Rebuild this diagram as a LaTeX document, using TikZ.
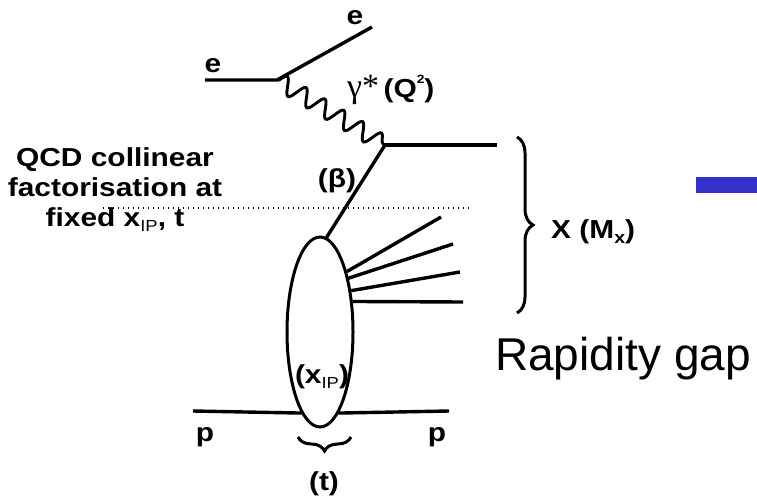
\documentclass[tikz,border=0pt]{standalone}
\usepackage{fontspec}
\setmainfont{Liberation Sans}
\newfontfamily\widesans[FakeStretch=1.15]{Liberation Sans}
\newfontfamily\serifgr{Liberation Serif}
\usetikzlibrary{shapes.geometric,decorations.pathmorphing,decorations.pathreplacing}
\definecolor{barblue}{HTML}{3333CC}
\begin{document}
\begin{tikzpicture}[x=1pt,y=-1pt,
  line/.style={line width=3.4pt},
  photon/.style={line width=2.9pt, decorate, decoration={snake, segment length=22pt, amplitude=8.5pt}},
  dotline/.style={line width=1.3pt, dash pattern=on 1.3pt off 3.7pt},
  bracestyle/.style={line width=3pt, decorate, decoration={brace, amplitude=#1}},
  lbl/.style={font=\widesans\fontsize{26}{30}\selectfont\bfseries, inner sep=0pt, anchor=base}
]
\useasboundingbox (0,0) rectangle (757,500);

% coordinates
\coordinate (ein) at (205,80);
\coordinate (ev) at (277,80);
\coordinate (eout) at (372,27);
\coordinate (qv) at (385,145);
\coordinate (qout) at (497,145);
\coordinate (pin) at (193,411);
\coordinate (pout) at (449,411);
\coordinate (f1) at (441,217);
\coordinate (f2) at (453,244);
\coordinate (f3) at (460,272);
\coordinate (f4) at (463,302);
\coordinate (dotL) at (103,208);
\coordinate (dotR) at (470,208);
\coordinate (bt) at (517,137);
\coordinate (bb) at (517,313);
\coordinate (tb1) at (351,437);
\coordinate (tb2) at (298,437);

% pomeron blob
\node[draw, ellipse, line width=3pt, minimum width=66pt, minimum height=190pt, inner sep=0pt] (pom) at (320,332) {};

% electron
\draw[line] (ein) -- (ev) -- (eout);
% photon
\draw[photon] (ev) -- (qv);
% quark lines
\draw[line] (qv) -- (qout);
\draw[line] (qv) -- (pom.86);
% hadronic fan
\draw[line] (pom.66) -- (f1);
\draw[line] (pom.62) -- (f2);
\draw[line] (pom.53) -- (f3);
\draw[line] (pom.43) -- (f4);
% proton
\draw[line] (pin) -- (pom.257);
\draw[line] (pom.283) -- (pout);
% dotted factorisation line
\draw[dotline] (dotL) -- (dotR);
% braces
\draw[bracestyle=16pt] (bt) -- (bb);
\draw[bracestyle=14pt] (tb1) -- (tb2);
% blue bar
\node[fill=barblue, minimum width=61pt, minimum height=16pt, inner sep=0pt, anchor=north west] (bar) at (696,177) {};

% labels
\node[lbl] (e1) at (213,73) {e};
\node[lbl] (e2) at (355,25) {e};
\node[lbl, anchor=base west] (gam) at (347,98) {{\serifgr\mdseries\fontsize{34}{34}\selectfont γ*}\,(Q\raisebox{0.55em}{\fontsize{12}{12}\selectfont 2})};
\node[lbl] (beta) at (337,187) {(β)};
\node[lbl, anchor=base west] (X) at (551,238) {X (M\raisebox{-0.22em}{\fontsize{17}{17}\selectfont x})};
\node[lbl] (xip) at (322,383) {(x\raisebox{-0.22em}{\fontsize{16}{16}\selectfont\mdseries IP})};
\node[lbl, anchor=north, align=center] (qcd) at (115,147) {QCD collinear\\factorisation at\\fixed x\raisebox{-0.22em}{\fontsize{16}{16}\selectfont\mdseries IP}, t};
\node[lbl] (p1) at (205,441) {p};
\node[lbl] (p2) at (437,441) {p};
\node[lbl] (t) at (324,490) {(t)};
\node[font=\fontsize{46}{50}\selectfont, anchor=base, inner sep=0pt] (rg) at (623,370) {Rapidity gap};
\end{tikzpicture}
\end{document}
